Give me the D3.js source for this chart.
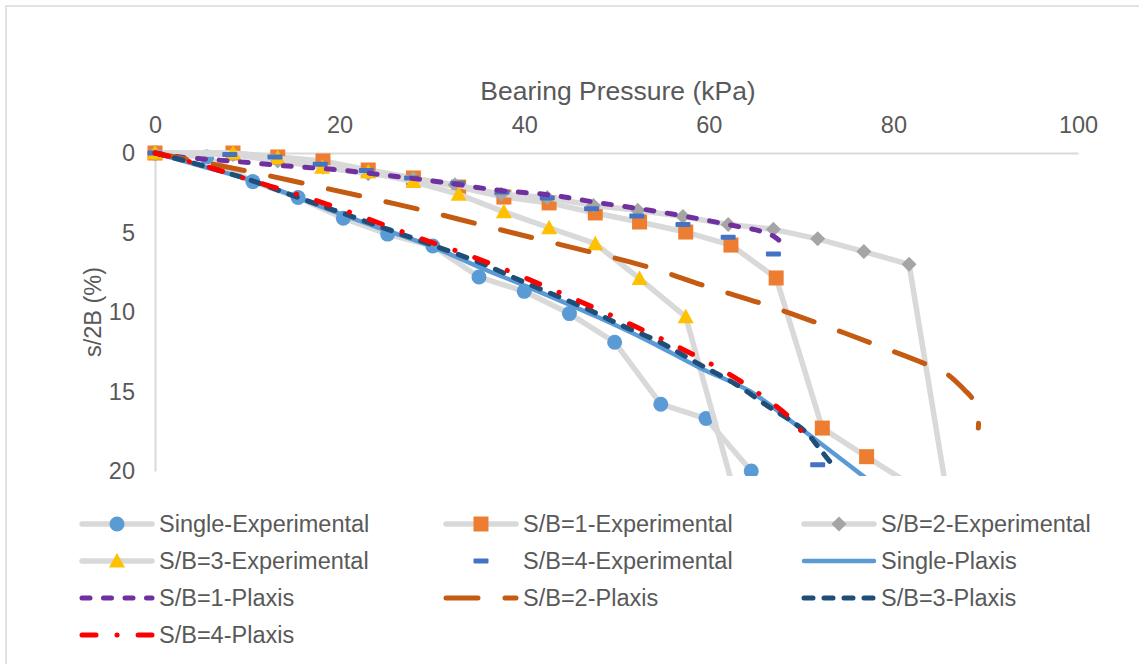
<!DOCTYPE html>
<html>
<head>
<meta charset="utf-8">
<script src="https://cdn.jsdelivr.net/npm/d3@7"></script>
<style>
  body { margin: 0; background: #fff; }
  svg text { font-family: 'Liberation Sans', Arial, sans-serif; fill: #595959; }
</style>
</head>
<body>
<div class="graph"><svg></svg></div>
<script>
// tick labels
const xTicks = [0, 20, 40, 60, 80, 100]
const yTicks = [0, 5, 10, 15, 20]

// experimental series (pressure in kPa, s/2B in %)
const singleExpP = [0, 5.6, 10.6, 15.5, 20.4, 25.2, 30.1, 35.1, 40.0, 44.9, 49.8, 54.8, 59.7, 64.6]
const singleExpS = [0, 0.25, 1.8, 2.8, 4.1, 5.1, 5.85, 7.8, 8.7, 10.1, 11.9, 15.8, 16.7, 20.0]

const sb1ExpP = [0, 8.45, 13.3, 18.2, 23.1, 28.0, 32.9, 37.8, 42.7, 47.7, 52.5, 57.5, 62.4, 67.3, 72.3, 77.1, 82.0]
const sb1ExpS = [0, 0, 0.25, 0.5, 1.07, 1.57, 2.14, 2.77, 3.14, 3.77, 4.34, 4.97, 5.79, 7.86, 17.3, 19.1, 20.9]

const sb2ExpP = [0, 8.45, 13.3, 18.2, 23.1, 28.0, 32.5, 37.5, 42.5, 47.5, 52.3, 57.2, 62.1, 67.0, 71.8, 76.8, 81.7, 85.9]
const sb2ExpS = [0, 0.1, 0.5, 0.9, 1.3, 1.6, 2.0, 2.6, 2.8, 3.3, 3.6, 4.0, 4.5, 4.8, 5.4, 6.2, 7.0, 21.8]

const sb3ExpP = [0, 8.45, 13.3, 18.1, 23.1, 28.0, 32.9, 37.8, 42.7, 47.7, 52.5, 57.5, 63.0]
const sb3ExpS = [0, 0, 0.3, 0.9, 1.2, 1.8, 2.6, 3.7, 4.7, 5.7, 7.9, 10.3, 21.8]

const sb4ExpP = [0, 8.1, 13.0, 17.9, 22.9, 27.8, 32.8, 37.6, 42.5, 47.3, 52.2, 57.2, 62.1, 67.0, 71.8]
const sb4ExpS = [0, 0.1, 0.25, 0.7, 1.1, 1.57, 1.9, 2.45, 2.83, 3.5, 3.96, 4.5, 5.3, 6.35, 19.6]

// plaxis series
const singlePlxP = [0, 4.9, 10.3, 15.5, 20.4, 25.2, 30.1, 35.2, 40.3, 47.9, 53.4, 59.0, 64.5, 69.9, 76.9]
const singlePlxS = [0, 0.8, 1.7, 2.8, 3.9, 4.9, 5.9, 7.2, 8.4, 10.3, 11.8, 13.5, 15.0, 17.3, 20.4]

const sb1PlxP = [0, 2.7, 8.1, 13.9, 20.0, 25.7, 30.9, 37.0, 42.8, 48.2, 53.6, 59.0, 63.4, 65.5, 67.2, 68.3]
const sb1PlxS = [0, 0.25, 0.5, 0.8, 1.07, 1.45, 1.82, 2.33, 2.64, 3.14, 3.6, 4.15, 4.65, 4.9, 5.3, 5.9]

const sb2PlxP = [0, 6.2, 10.5, 16.8, 23.0, 29.0, 35.2, 41.4, 47.7, 53.6, 59.8, 65.9, 71.8, 77.8, 83.6, 85.8, 87.7, 88.6, 89.2, 89.2]
const sb2PlxS = [0, 0.7, 1.2, 2.0, 2.8, 3.6, 4.5, 5.4, 6.3, 7.2, 8.4, 9.5, 10.7, 12.0, 13.3, 13.9, 14.9, 15.5, 16.7, 17.3]

const sb3PlxP = [0, 4.9, 10.3, 15.5, 20.4, 25.2, 30.1, 35.2, 40.3, 46.4, 50.4, 54.7, 58.7, 62.8, 66.6, 68.8, 70.6, 72.0, 73.1]
const sb3PlxS = [0, 0.75, 1.7, 2.8, 3.8, 4.8, 5.8, 6.9, 8.2, 9.7, 10.8, 11.9, 13.2, 14.5, 16.0, 16.8, 17.6, 18.6, 19.4]

const sb4PlxP = [0, 4.1, 10.3, 16.5, 22.4, 28.4, 34.3, 40.3, 46.3, 52.0, 57.7, 63.3, 68.5, 69.9, 70.5]
const sb4PlxS = [0, 0.6, 1.7, 2.8, 4.0, 5.3, 6.5, 7.9, 9.4, 10.9, 12.5, 14.3, 16.5, 17.4, 18.4]

const GRAY = '#D9D9D9'

const experimental = [
  { name: 'Single-Experimental', p: singleExpP, s: singleExpS, marker: 'circle', color: '#5B9BD5', line: true },
  { name: 'S/B=1-Experimental', p: sb1ExpP, s: sb1ExpS, marker: 'square', color: '#ED7D31', line: true },
  { name: 'S/B=2-Experimental', p: sb2ExpP, s: sb2ExpS, marker: 'diamond', color: '#A5A5A5', line: true },
  { name: 'S/B=3-Experimental', p: sb3ExpP, s: sb3ExpS, marker: 'triangle', color: '#FFC000', line: true },
  { name: 'S/B=4-Experimental', p: sb4ExpP, s: sb4ExpS, marker: 'dash', color: '#4472C4', line: false }
]

const plaxis = [
  { name: 'Single-Plaxis', p: singlePlxP, s: singlePlxS, color: '#5B9BD5', dash: null, width: 4.5 },
  { name: 'S/B=1-Plaxis', p: sb1PlxP, s: sb1PlxS, color: '#7030A0', dash: '8,13.5', width: 5 },
  { name: 'S/B=2-Plaxis', p: sb2PlxP, s: sb2PlxS, color: '#C55A11', dash: '32,27', width: 5 },
  { name: 'S/B=3-Plaxis', p: sb3PlxP, s: sb3PlxS, color: '#1F4E79', dash: '9,11', width: 5 },
  { name: 'S/B=4-Plaxis', p: sb4PlxP, s: sb4PlxS, color: '#FF0000', dash: '14,21,0.1,21', width: 5 }
]

const svg = d3.select('.graph').select('svg')
  .attr('width', 1139)
  .attr('height', 664)

const x = d3.scaleLinear().domain([0, 100]).range([155, 1078])
const y = d3.scaleLinear().domain([0, 20]).range([153, 471])

/**
 * Draws the chart frame.
 */
function drawFrame () {
  svg.append('rect')
    .attr('x', 6).attr('y', 6)
    .attr('width', 1150).attr('height', 680)
    .attr('fill', 'none')
    .attr('stroke', GRAY)
    .attr('stroke-width', 1.5)
}

/**
 * Draws both axes and their titles.
 */
function drawAxes () {
  const xAxis = d3.axisTop(x).tickValues(xTicks).tickSize(0).tickPadding(20).tickSizeOuter(0)
  const gx = svg.append('g')
    .attr('transform', 'translate(0,' + y(0) + ')')
    .call(xAxis)
  gx.select('.domain').attr('stroke', GRAY).attr('stroke-width', 2)
  gx.selectAll('text').attr('font-size', 23.5).attr('fill', '#595959')

  const yAxis = d3.axisLeft(y).tickValues(yTicks).tickSize(0).tickPadding(20).tickSizeOuter(0)
  const gy = svg.append('g')
    .attr('transform', 'translate(' + x(0) + ',0)')
    .call(yAxis)
  gy.select('.domain').attr('stroke', GRAY).attr('stroke-width', 2)
  gy.selectAll('text').attr('font-size', 23.5).attr('fill', '#595959')

  svg.selectAll('.tick text').attr('font-family', "'Liberation Sans', Arial, sans-serif")

  svg.append('text')
    .text('Bearing Pressure (kPa)')
    .attr('x', 618)
    .attr('y', 100)
    .attr('text-anchor', 'middle')
    .attr('font-size', 26.5)

  svg.append('text')
    .text('s/2B (%)')
    .attr('transform', 'translate(101,312) rotate(-90)')
    .attr('text-anchor', 'middle')
    .attr('font-size', 23.5)
}

/**
 * Appends one marker shape at (cx, cy).
 *
 * @param {*} g The d3 Selection to draw into
 * @param {string} kind Marker type
 * @param {string} color Fill colour
 * @param {number} cx Centre x
 * @param {number} cy Centre y
 */
function drawMarker (g, kind, color, cx, cy) {
  if (kind === 'circle') {
    g.append('circle').attr('cx', cx).attr('cy', cy).attr('r', 7.5).attr('fill', color)
  } else if (kind === 'square') {
    g.append('rect').attr('x', cx - 7.5).attr('y', cy - 7.5).attr('width', 15).attr('height', 15).attr('fill', color)
  } else if (kind === 'diamond') {
    g.append('path')
      .attr('d', 'M' + cx + ',' + (cy - 7.5) + 'L' + (cx + 7.5) + ',' + cy + 'L' + cx + ',' + (cy + 7.5) + 'L' + (cx - 7.5) + ',' + cy + 'Z')
      .attr('fill', color)
  } else if (kind === 'triangle') {
    g.append('path')
      .attr('d', 'M' + cx + ',' + (cy - 8) + 'L' + (cx + 8) + ',' + (cy + 6.5) + 'L' + (cx - 8) + ',' + (cy + 6.5) + 'Z')
      .attr('fill', color)
  } else {
    g.append('rect').attr('x', cx - 7.5).attr('y', cy - 2.5).attr('width', 15).attr('height', 5).attr('rx', 1).attr('fill', color)
  }
}

/**
 * Draws all series inside a clipped plot group.
 */
function drawSeries () {
  svg.append('clipPath').attr('id', 'plot-clip')
    .append('rect').attr('x', 140).attr('y', 0).attr('width', 960).attr('height', 476)

  const plot = svg.append('g').attr('clip-path', 'url(#plot-clip)')
  const straight = d3.line().x(d => x(d[0])).y(d => y(d[1]))
  const smooth = d3.line().x(d => x(d[0])).y(d => y(d[1])).curve(d3.curveCatmullRom.alpha(0.5))

  experimental.forEach(function (sr) {
    const pts = sr.p.map((v, i) => [v, sr.s[i]])
    const g = plot.append('g')
    if (sr.line) {
      g.append('path')
        .attr('d', straight(pts))
        .attr('fill', 'none')
        .attr('stroke', GRAY)
        .attr('stroke-width', 5.5)
        .attr('stroke-linejoin', 'round')
    }
    pts.filter(d => d[1] <= 20.3).forEach(d => drawMarker(g, sr.marker, sr.color, x(d[0]), y(d[1])))
  })

  plaxis.forEach(function (sr) {
    const pts = sr.p.map((v, i) => [v, sr.s[i]])
    plot.append('path')
      .attr('d', smooth(pts))
      .attr('fill', 'none')
      .attr('stroke', sr.color)
      .attr('stroke-width', sr.width)
      .attr('stroke-linecap', 'round')
      .attr('stroke-dasharray', sr.dash)
  })
}

/**
 * Draws the three column legend below the plot.
 */
function drawLegend () {
  const cols = [82, 446, 804]
  const rows = [524, 561, 598, 635]
  const items = experimental.map(d => Object.assign({ kind: 'exp' }, d))
    .concat(plaxis.map(d => Object.assign({ kind: 'plx' }, d)))

  items.forEach(function (it, i) {
    const lx = cols[i % 3]
    const ly = rows[Math.floor(i / 3)]
    const g = svg.append('g')
    if (it.kind === 'exp') {
      if (it.line) {
        g.append('line')
          .attr('x1', lx).attr('x2', lx + 70).attr('y1', ly).attr('y2', ly)
          .attr('stroke', GRAY).attr('stroke-width', 5.5).attr('stroke-linecap', 'round')
      }
      drawMarker(g, it.marker, it.color, lx + 35, ly)
    } else {
      g.append('line')
        .attr('x1', lx).attr('x2', lx + 70).attr('y1', ly).attr('y2', ly)
        .attr('stroke', it.color).attr('stroke-width', it.width)
        .attr('stroke-linecap', 'round')
        .attr('stroke-dasharray', it.dash)
    }
    g.append('text')
      .text(it.name)
      .attr('x', lx + 77)
      .attr('y', ly)
      .attr('dy', '0.35em')
      .attr('font-size', 23.5)
  })
}

drawFrame()
drawAxes()
drawSeries()
drawLegend()
</script>
</body>
</html>
